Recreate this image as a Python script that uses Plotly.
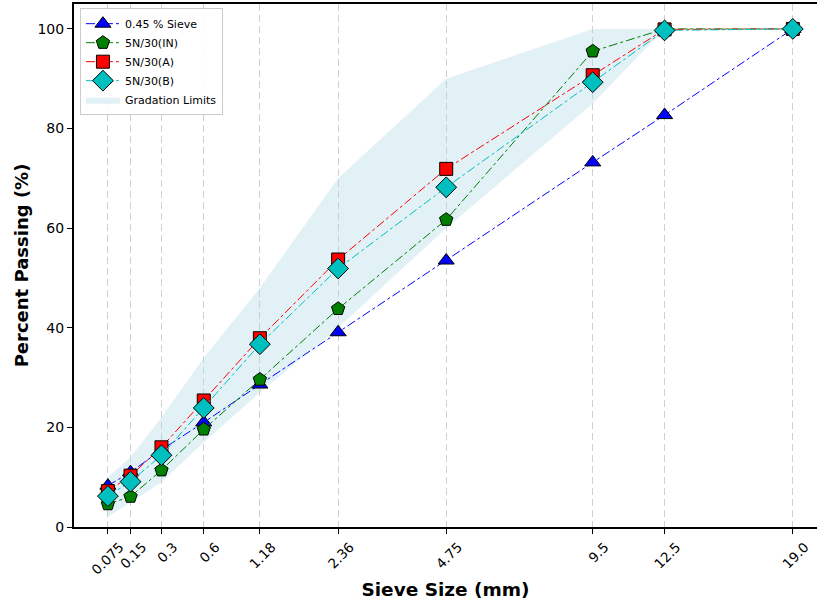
import numpy as np
import plotly.graph_objects as go

# ---- data ----
sieve_labels = ["0.075", "0.15", "0.3", "0.6", "1.18", "2.36", "4.75", "9.5", "12.5", "19.0"]
sieve_sizes = [0.075, 0.15, 0.3, 0.6, 1.18, 2.36, 4.75, 9.5, 12.5, 19.0]

sieve_045 = [8.3, 11.0, 15.5, 21.0, 28.6, 39.1, 53.5, 73.2, 82.7, 100.0]
mix_in = [4.6, 6.1, 11.4, 19.6, 29.6, 43.8, 61.7, 95.5, 100.0, 100.0]
mix_a = [7.2, 10.3, 16.0, 25.4, 37.9, 53.7, 71.9, 90.7, 99.9, 100.0]
mix_b = [6.2, 9.1, 14.4, 23.9, 36.7, 51.9, 68.2, 89.3, 99.7, 100.0]

limit_sizes = [0.075, 0.15, 0.3, 0.6, 1.18, 2.36, 4.75, 9.5, 12.5]
limit_lower = [2, 5, 9, 17, 27, 40, 60, 85, 100]
limit_upper = [10, 14, 22, 34, 48, 70, 90, 100, 100]

POW = 0.45
x_pts = np.array(sieve_sizes) ** POW
x_lim = np.array(limit_sizes) ** POW

fig = go.Figure()

fig.add_trace(go.Scatter(
    x=x_lim, y=limit_lower, mode="lines", line=dict(width=0),
    showlegend=False, hoverinfo="skip"))
fig.add_trace(go.Scatter(
    x=x_lim, y=limit_upper, mode="lines", line=dict(width=0),
    fill="tonexty", fillcolor="rgba(173,216,230,0.36)",
    name="Gradation Limits", legendrank=5))

series = [
    ("0.45 % Sieve", sieve_045, "#0000ff", "triangle-up", 14),
    ("5N/30(IN)", mix_in, "#008000", "pentagon", 14),
    ("5N/30(A)", mix_a, "#ff0000", "square", 13),
    ("5N/30(B)", mix_b, "#00bfbf", "diamond", 16),
]
for i, (name, vals, col, sym, sz) in enumerate(series):
    fig.add_trace(go.Scatter(
        x=x_pts, y=vals, mode="lines+markers", name=name,
        line=dict(color=col, width=1, dash="dashdot"),
        marker=dict(symbol=sym, size=sz, color=col,
                    line=dict(color="black", width=1)),
        legendrank=i + 1))

fig.update_layout(
    width=817, height=600,
    margin=dict(l=74, r=0, t=4, b=73),
    plot_bgcolor="white", paper_bgcolor="white",
    font=dict(family="DejaVu Sans", color="black", size=14),
    legend=dict(x=0.008, y=0.992, xanchor="left", yanchor="top",
                traceorder="normal",
                bgcolor="rgba(255,255,255,0.9)", bordercolor="#cccccc",
                borderwidth=1, font=dict(size=11), tracegroupgap=0,
                itemwidth=34),
)
fig.update_xaxes(
    range=[0.141, 3.884],
    tickmode="array", tickvals=x_pts, ticktext=sieve_labels,
    tickangle=-45, tickfont=dict(size=13.5), ticklabelshift=12,
    ticks="outside", ticklen=5, tickcolor="black",
    showgrid=True, gridcolor="#d0d0d0", gridwidth=1.3, griddash="7px,4px",
    showline=True, linecolor="black", linewidth=2, mirror=True,
    zeroline=False,
    title=dict(text="<b>Sieve Size (mm)</b>", font=dict(size=18.5), standoff=6),
)
fig.update_yaxes(
    range=[0, 105],
    tickmode="array", tickvals=[0, 20, 40, 60, 80, 100],
    tickfont=dict(size=14),
    ticks="outside", ticklen=5, tickcolor="black",
    showgrid=False, zeroline=False,
    showline=True, linecolor="black", linewidth=2, mirror=False,
    title=dict(text="<b>Percent Passing (%)</b>", font=dict(size=18), standoff=4),
)

fig.write_html("out.html", config={"displayModeBar": False},
               post_script="document.body.style.margin='0';document.body.style.overflow='hidden';")
